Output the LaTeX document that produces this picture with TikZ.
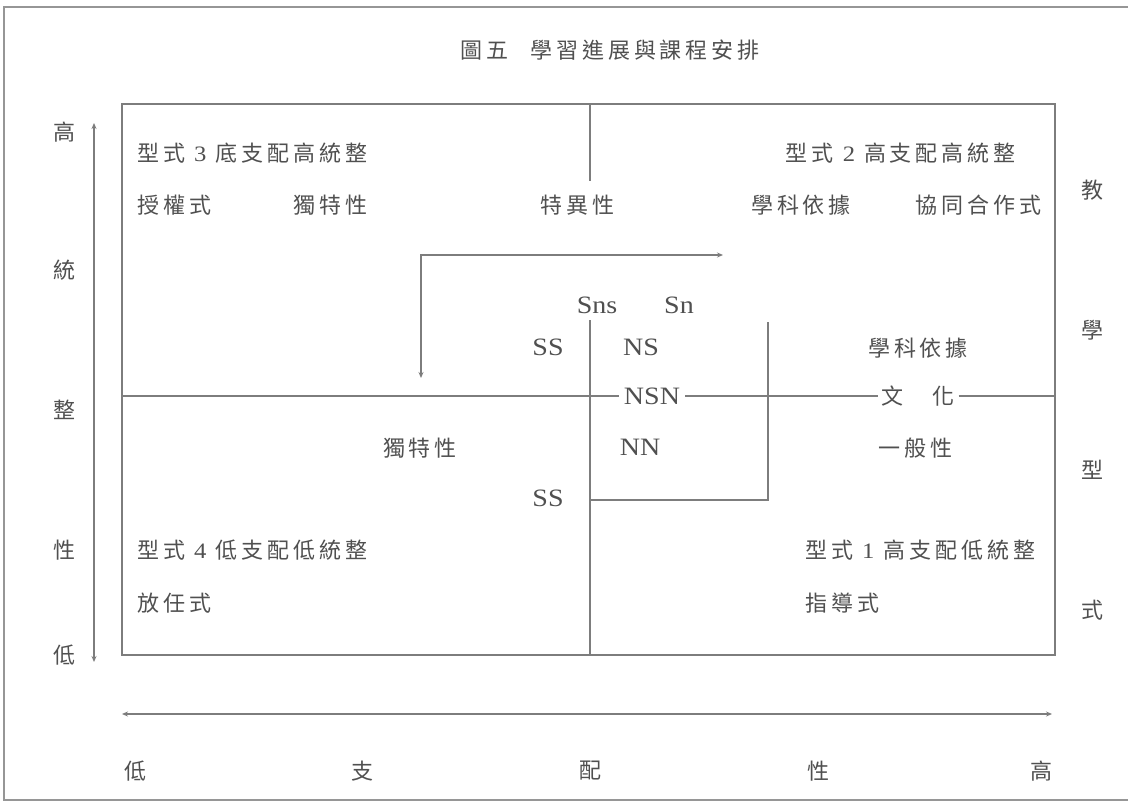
\documentclass[tikz,border=0pt]{standalone}
\usepackage{fontspec}
\usepackage{graphicx}
\newfontfamily\cjks{Noto Sans CJK TC}[LetterSpace=18]
\newfontfamily\lat{Liberation Serif}[FakeStretch=1.12]
\usetikzlibrary{arrows.meta}
\definecolor{linec}{RGB}{125,125,125}
\definecolor{txt}{RGB}{80,80,80}
\definecolor{framec}{RGB}{150,150,150}
\tikzset{
  cj/.style={font=\cjks\fontsize{22}{26}\selectfont, text=txt, inner sep=0pt},
  la/.style={font=\lat\fontsize{25}{29}\selectfont, text=txt, inner sep=0pt},
  ln/.style={draw=linec, line width=1.1pt},
  arr/.style={draw=linec, line width=1.1pt, {Stealth[length=6pt,width=5pt]}-{Stealth[length=6pt,width=5pt]}},
}
\begin{document}
\begin{tikzpicture}[x=1pt,y=-1pt]
\useasboundingbox (0,0) rectangle (1128,803);
\fill[white] (0,0) rectangle (1128,803);
% outer frame
\coordinate (F1) at (1128,7);
\coordinate (F2) at (4,7);
\coordinate (F3) at (4,800);
\coordinate (F4) at (1128,800);
\draw[draw=framec, line width=1.2pt] (F1) -- (F2) -- (F3) -- (F4);
% title
\node[cj, anchor=west] (title) at (460,50) {圖五\hspace{1em}學習進展與課程安排};
% main box
\coordinate (B1) at (122,104);
\coordinate (B2) at (1055,655);
\draw[ln] (B1) rectangle (B2);
% left axis
\coordinate (LA1) at (94,123);
\coordinate (LA2) at (94,662);
\draw[arr] (LA1) -- (LA2);
\node[cj] (lh) at (64,132) {高};
\node[cj] (lt) at (64,270) {統};
\node[cj] (lz) at (64,410) {整};
\node[cj] (lx) at (64,550) {性};
\node[cj] (ld) at (64,655) {低};
% right labels
\node[cj] (rj) at (1092,190) {教};
\node[cj] (rx) at (1092,330) {學};
\node[cj] (rx2) at (1092,470) {型};
\node[cj] (rs) at (1092,610) {式};
% bottom axis
\coordinate (BA1) at (122,714);
\coordinate (BA2) at (1052,714);
\draw[arr] (BA1) -- (BA2);
\node[cj] (b1) at (135,771) {低};
\node[cj] (b2) at (362,771) {支};
\node[cj] (b3) at (590,771) {配};
\node[cj] (b4) at (818,771) {性};
\node[cj] (b5) at (1041,771) {高};
% quadrant texts
\node[cj, anchor=west] (t3) at (137,153) {型式 {\lat 3} 底支配高統整};
\node[cj, anchor=west] (sq) at (137,205) {授權式};
\node[cj, anchor=west] (dt1) at (293,205) {獨特性};
\node[cj, anchor=west] (ty) at (540,205) {特異性};
\node[cj, anchor=east] (t2) at (1016,153) {型式 {\lat 2} 高支配高統整};
\node[cj] (xk1) at (801,205) {學科依據};
\node[cj, anchor=east] (xt) at (1042,205) {協同合作式};
\node[cj] (xk2) at (918,348) {學科依據};
\node[cj] (wh) at (918,396) {文\hspace{1.3em}化};
\node[cj, anchor=west] (yb) at (878,448) {一般性};
\node[cj] (dt2) at (420,448) {獨特性};
\node[cj, anchor=west] (t4) at (137,550) {型式 {\lat 4} 低支配低統整};
\node[cj, anchor=west] (fr) at (137,603) {放任式};
\node[cj, anchor=west] (t1) at (805,550) {型式 {\lat 1} 高支配低統整};
\node[cj, anchor=west] (zd) at (805,603) {指導式};
% latin labels
\node[la] (sns) at (597,305) {Sns};
\node[la] (sn) at (679,305) {Sn};
\node[la] (ss1) at (548,347) {SS};
\node[la] (ns) at (641,347) {NS};
\node[la] (nsn) at (652,396) {NSN};
\node[la] (nn) at (640,447) {NN};
\node[la] (ss2) at (548,498) {SS};
% midline
\coordinate (ML) at (122,396);
\coordinate (MR) at (1055,396);
\draw[ln] (ML) -- ([xshift=-5pt]nsn.west);
\draw[ln] ([xshift=5pt]nsn.east) -- ([xshift=-4pt]wh.west);
\draw[ln] ([xshift=4pt]wh.east) -- (MR);
% vertical lines
\coordinate (VT1) at (590,104);
\coordinate (VT2) at (590,181);
\draw[ln] (VT1) -- (VT2);
\coordinate (VM1) at (590,320);
\coordinate (VM2) at (590,655);
\draw[ln] (VM1) -- (VM2);
\coordinate (IB1) at (590,500);
\coordinate (IB2) at (768,500);
\coordinate (IR1) at (768,322);
\draw[ln] (IB1) -- (IB2) -- (IR1);
% bent arrow
\coordinate (AD) at (421,378);
\coordinate (AC) at (421,255);
\coordinate (AR) at (723,255);
\draw[arr] (AD) -- (AC) -- (AR);
\end{tikzpicture}
\end{document}
